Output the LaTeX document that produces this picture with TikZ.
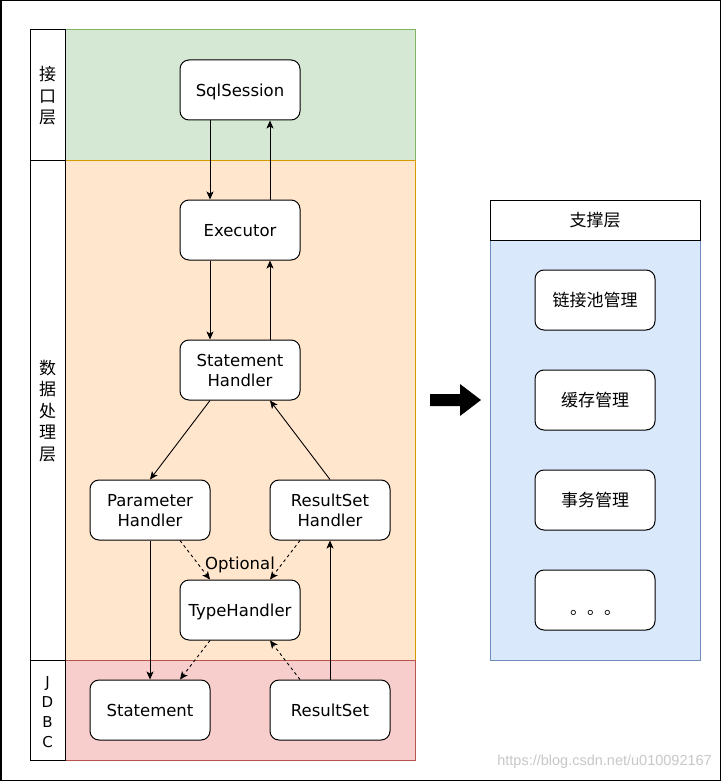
\documentclass[tikz,border=0pt]{standalone}
\usepackage{fontspec}
\usetikzlibrary{arrows.meta}
\newfontfamily\latinfont{DejaVu Sans}
\newfontfamily\cjkfont{Noto Sans CJK SC}
\newfontfamily\wmfont{Liberation Sans}
\newcommand\myLat{\latinfont\fontsize{16.5}{20}\selectfont}
\newcommand\myCjk{\cjkfont\fontsize{17}{21.5}\selectfont}
\definecolor{gfill}{HTML}{D5E8D4}\definecolor{gline}{HTML}{82B366}
\definecolor{ofill}{HTML}{FFE6CC}\definecolor{oline}{HTML}{D79B00}
\definecolor{rfill}{HTML}{F8CECC}\definecolor{rline}{HTML}{B85450}
\definecolor{bfill}{HTML}{DAE8FC}\definecolor{bline}{HTML}{6C8EBF}
\tikzset{
  box/.style={draw, line width=1pt, rounded corners=9pt, fill=white,
    minimum width=120pt, minimum height=60pt, inner sep=0pt, align=center,
    font=\myLat, text depth=0pt},
  cbox/.style={draw, line width=1pt, rounded corners=9pt, fill=white,
    minimum width=120pt, minimum height=60pt, inner sep=0pt, align=center, font=\myCjk},
  arr/.style={line width=0.9pt, -{Stealth[length=8pt,width=7pt,inset=2pt]}},
  darr/.style={arr, dash pattern=on 3pt off 3pt},
  strip/.style={draw, line width=1pt, fill=white},
}
\begin{document}
\begin{tikzpicture}[x=1pt,y=-1pt]
\useasboundingbox (0,0) rectangle (721,781);
\draw[line width=1.5pt] (0.75,0.75) rectangle (720.25,780.25);
% layers
\draw[fill=gfill, draw=gline, line width=1pt] (65,30) rectangle (415,160);
\draw[fill=ofill, draw=oline, line width=1pt] (65,160) rectangle (415,660);
\draw[fill=rfill, draw=rline, line width=1pt] (65,660) rectangle (415,760);
\draw[strip] (30,30) rectangle (65,160);
\draw[strip] (30,160) rectangle (65,660);
\draw[strip] (30,660) rectangle (65,760);
\node[align=center, font=\myCjk, inner sep=0pt] (l1) at (47.5,96) {接\\口\\层};
\node[align=center, font=\myCjk, inner sep=0pt] (l2) at (47.5,411) {数\\据\\处\\理\\层};
\node[align=center, font=\latinfont\fontsize{15}{20}\selectfont, inner sep=0pt] (l3) at (47.5,712) {J\\D\\B\\C};
% nodes
\node[box] (sql) at (240,90) {SqlSession};
\node[box] (exe) at (240,230) {Executor};
\node[box] (sh) at (240,370) {Statement\\Handler};
\node[box] (ph) at (150,510) {Parameter\\Handler};
\node[box] (rsh) at (330,510) {ResultSet\\Handler};
\node[box] (th) at (240,610) {TypeHandler};
\node[box] (st) at (150,710) {Statement};
\node[box] (rs) at (330,710) {ResultSet};
\node[font=\myLat, inner sep=0pt, text depth=0pt] (opt) at (240,563) {Optional};
% connectors
\draw[arr] ([xshift=-30pt]sql.south) -- ([xshift=-30pt]exe.north);
\draw[arr] ([xshift=30pt]exe.north) -- ([xshift=30pt]sql.south);
\draw[arr] ([xshift=-30pt]exe.south) -- ([xshift=-30pt]sh.north);
\draw[arr] ([xshift=30pt]sh.north) -- ([xshift=30pt]exe.south);
\draw[arr] ([xshift=-30pt]sh.south) -- (ph.north);
\draw[arr] (rsh.north) -- ([xshift=30pt]sh.south);
\draw[arr] (ph.south) -- (st.north);
\draw[arr] (rs.north) -- (rsh.south);
\draw[darr] ([xshift=30pt]ph.south) -- ([xshift=-30pt]th.north);
\draw[darr] ([xshift=-30pt]rsh.south) -- ([xshift=30pt]th.north);
\draw[darr] ([xshift=-30pt]th.south) -- ([xshift=30pt]st.north);
\draw[darr] ([xshift=-30pt]rs.north) -- ([xshift=30pt]th.south);
% big arrow
\fill (430,394) -- (460,394) -- (460,384) -- (481,400) -- (460,416) -- (460,406) -- (430,406) -- cycle;
% support layer
\draw[fill=bfill, draw=bline, line width=1pt] (490,240) rectangle (700,660);
\draw[strip] (490,200) rectangle (700,240);
\node[font=\myCjk, inner sep=0pt] (hdr) at (595,220) {支撑层};
\node[cbox] (s1) at (595,300) {链接池管理};
\node[cbox] (s2) at (595,400) {缓存管理};
\node[cbox] (s3) at (595,500) {事务管理};
\node[cbox] (s4) at (595,600) {\hspace*{1pt}\raisebox{-14pt}[0pt][0pt]{。。。}};
% watermark
\node[anchor=east, font=\wmfont\fontsize{14.5}{16}\selectfont, text=black!22, inner sep=0pt] (wm) at (712,762) {https://blog.csdn.net/u010092167};
\end{tikzpicture}
\end{document}
